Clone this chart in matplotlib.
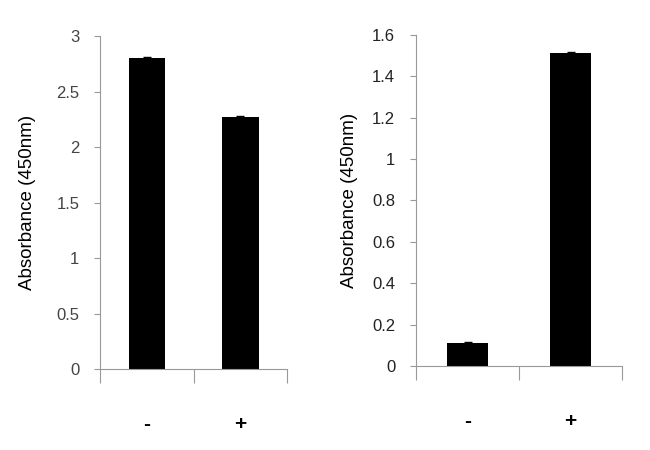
import matplotlib
matplotlib.use('Agg')
import matplotlib.pyplot as plt

plt.rcParams['font.family'] = ['Liberation Sans', 'DejaVu Sans']

groups = ['-', '+']
left_vals = [2.80, 2.27]
left_err = [0.008, 0.008]
right_vals = [0.11, 1.515]
right_err = [0.005, 0.005]

fig = plt.figure(figsize=(6.5, 4.5), dpi=100)
ax1 = fig.add_axes([0.154, 0.18, 0.288, 0.74])
ax2 = fig.add_axes([0.64, 0.187, 0.317, 0.735])


def style(ax, vals, err, ymax, step, labx, tickcol):
    pos = [0.5, 1.5]
    ax.bar(pos, vals, width=0.39, color='black', yerr=err,
           error_kw=dict(ecolor='black', capsize=3, elinewidth=1))
    ax.set_xlim(0, 2)
    ax.set_ylim(0, ymax)
    ticks = [round(i * step, 2) for i in range(int(round(ymax / step)) + 1)]
    ax.set_yticks(ticks)
    ax.set_yticklabels(['%g' % t for t in ticks])
    for s in ['top', 'right']:
        ax.spines[s].set_visible(False)
    for s in ['left', 'bottom']:
        ax.spines[s].set_color('#999999')
    ax.tick_params(axis='y', direction='out', length=4, color='#999999',
                   labelsize=12, labelcolor=tickcol, pad=11)
    ax.set_xticks([0, 1, 2])
    ax.set_xticklabels([])
    ax.tick_params(axis='x', which='major', direction='out', length=10,
                   color='#999999')
    ax.set_xticks(pos, minor=True)
    ax.set_xticklabels(groups, minor=True, fontsize=15, fontweight='bold')
    ax.tick_params(axis='x', which='minor', length=0, pad=33)
    ax.set_ylabel('Absorbance (450nm)', fontsize=13.5)
    ax.yaxis.set_label_coords(labx, 0.5)


style(ax1, left_vals, left_err, 3, 0.5, -0.342, '#444444')
style(ax2, right_vals, right_err, 1.6, 0.2, -0.282, '#222222')

fig.savefig('out.png', dpi=100)
